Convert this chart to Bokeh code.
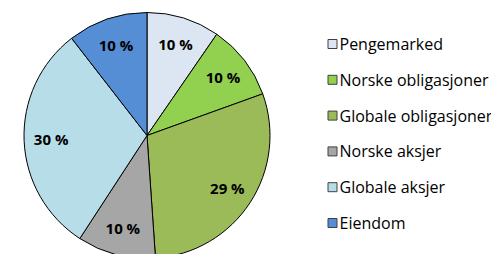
import math
from bokeh.plotting import figure
from bokeh.models import Range1d, ColumnDataSource
from bokeh.core.properties import value
from bokeh.embed import file_html
from bokeh.resources import INLINE

categories = ["Pengemarked", "Norske obligasjoner", "Globale obligasjoner",
              "Norske aksjer", "Globale aksjer", "Eiendom"]
shares = [9.6, 9.9, 29.4, 10.3, 30.3, 10.5]
colors = ["#DCE6F2", "#92D050", "#9BBB59", "#A6A6A6", "#B7DEE8", "#558ED5"]

W, H = 491, 254


def py(page_y):
    return H - page_y


p = figure(width=W, height=H, output_backend="svg", toolbar_location=None,
           x_range=Range1d(0, W), y_range=Range1d(0, H),
           min_border=0)
p.axis.visible = False
p.grid.visible = False
p.outline_line_color = None
p.background_fill_color = "white"
p.border_fill_color = "white"

cx, cy, r = 146.5, py(135), 123
total = sum(shares)
starts, ends, lx, ly, labels = [], [], [], [], []
cum = 0.0
for s in shares:
    a0 = math.pi / 2 - 2 * math.pi * cum / total
    a1 = math.pi / 2 - 2 * math.pi * (cum + s) / total
    starts.append(a1)
    ends.append(a0)
    mid = (a0 + a1) / 2
    lx.append(cx + 0.78 * r * math.cos(mid))
    ly.append(cy + 0.78 * r * math.sin(mid))
    labels.append(f"{round(s)} %")
    cum += s

src = ColumnDataSource(dict(start=starts, end=ends, color=colors,
                            lx=lx, ly=ly, label=labels))
p.wedge(x=cx, y=cy, radius=r, start_angle="start", end_angle="end",
        fill_color="color", line_color="black", line_width=1, source=src)
p.text(x="lx", y="ly", text="label", source=src, text_align="center",
       text_baseline="middle", text_font=value("Open Sans"), text_font_size="15px",
       text_font_style="bold", text_color="black")

# legend
leg_y = [py(43.5 + i * 35.8) for i in range(len(categories))]
leg = ColumnDataSource(dict(x=[332] * len(categories), y=leg_y,
                            tx=[339] * len(categories), cat=categories,
                            color=colors))
p.rect(x="x", y="y", width=9, height=9, width_units="screen",
       height_units="screen", fill_color="color", line_color="#404040",
       line_width=1, source=leg)
p.text(x="tx", y="y", text="cat", source=leg, text_align="left",
       text_baseline="middle", text_font=value("Open Sans"), text_font_size="16px",
       text_color="black")

open("out.html", "w").write(file_html(p, INLINE))
